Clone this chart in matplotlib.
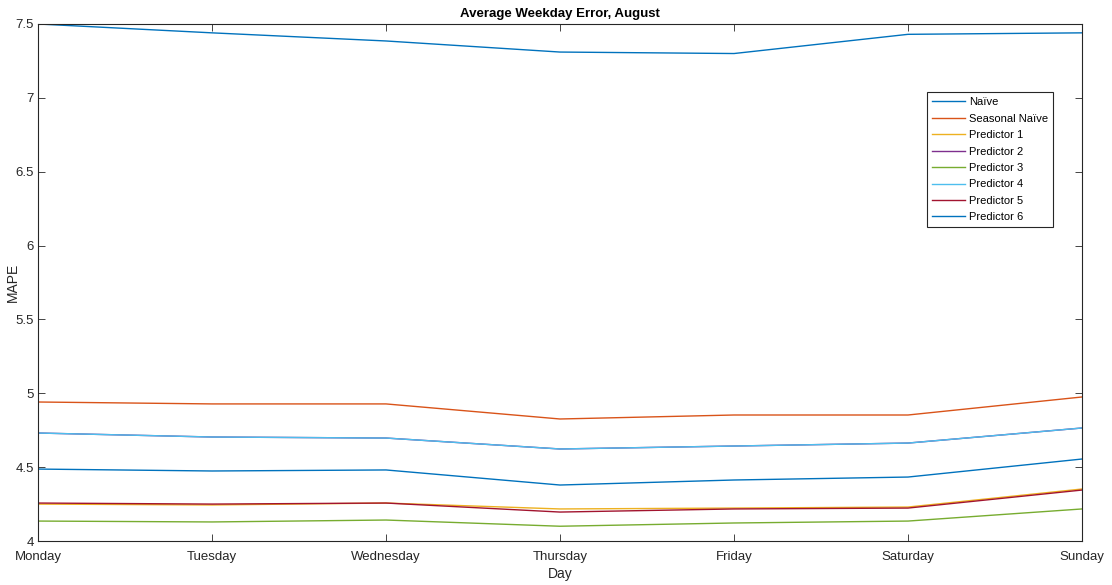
import matplotlib
matplotlib.use("Agg")
import matplotlib.pyplot as plt
from matplotlib.ticker import FuncFormatter

plt.rcParams['font.family'] = ['Liberation Sans', 'DejaVu Sans']

days = ["Monday", "Tuesday", "Wednesday", "Thursday", "Friday", "Saturday", "Sunday"]

naive = [7.50, 7.44, 7.385, 7.31, 7.30, 7.43, 7.44]
seasonal_naive = [4.941, 4.928, 4.928, 4.826, 4.853, 4.853, 4.975]
predictor_1 = [4.250, 4.244, 4.257, 4.217, 4.223, 4.230, 4.352]
predictor_2 = [4.731, 4.704, 4.697, 4.623, 4.643, 4.663, 4.765]
predictor_3 = [4.135, 4.129, 4.142, 4.100, 4.122, 4.135, 4.217]
predictor_4 = [4.731, 4.704, 4.697, 4.623, 4.643, 4.663, 4.765]
predictor_5 = [4.257, 4.250, 4.257, 4.196, 4.217, 4.223, 4.345]
predictor_6 = [4.487, 4.474, 4.481, 4.379, 4.413, 4.433, 4.555]

series = [
    ("Naïve", naive, "#0072BD"),
    ("Seasonal Naïve", seasonal_naive, "#D95319"),
    ("Predictor 1", predictor_1, "#EDB120"),
    ("Predictor 2", predictor_2, "#7E2F8E"),
    ("Predictor 3", predictor_3, "#77AC30"),
    ("Predictor 4", predictor_4, "#4DBEEE"),
    ("Predictor 5", predictor_5, "#A2142F"),
    ("Predictor 6", predictor_6, "#0072BD"),
]

fig = plt.figure(figsize=(11.12, 5.85), dpi=100)
ax = fig.add_axes([0.0342, 0.0752, 0.9388, 0.8838])

x = list(range(len(days)))
for name, vals, color in series:
    ax.plot(x, vals, color=color, lw=1.0, label=name)

ax.set_xlim(0, len(days) - 1)
ax.set_ylim(4, 7.5)
ax.set_xticks(x)
ax.set_xticklabels(days)
ax.set_yticks([4, 4.5, 5, 5.5, 6, 6.5, 7, 7.5])
ax.yaxis.set_major_formatter(FuncFormatter(lambda v, p: f"{v:g}"))

ax.tick_params(direction="in", top=True, right=True, length=5, width=0.6,
               labelsize=9.5, colors="#262626")
ax.tick_params(axis="x", pad=7)
ax.tick_params(axis="y", pad=3)
for s in ax.spines.values():
    s.set_linewidth(0.8)
    s.set_color("#262626")

ax.set_xlabel("Day", fontsize=10, color="#262626", labelpad=3)
ax.set_ylabel("MAPE", fontsize=10, color="#262626")
ax.yaxis.set_label_coords(-0.017, 0.5)
ax.set_title("Average Weekday Error, August", fontsize=9.5, fontweight="bold", pad=5)

leg = ax.legend(loc="upper left", bbox_to_anchor=(0.852, 0.868), fontsize=8,
                frameon=True, fancybox=False, edgecolor="#262626", framealpha=1,
                borderpad=0.45, labelspacing=0.58, handlelength=2.9, handletextpad=0.4,
                borderaxespad=0)
leg.get_frame().set_linewidth(0.8)

fig.savefig("out.png", dpi=100)
